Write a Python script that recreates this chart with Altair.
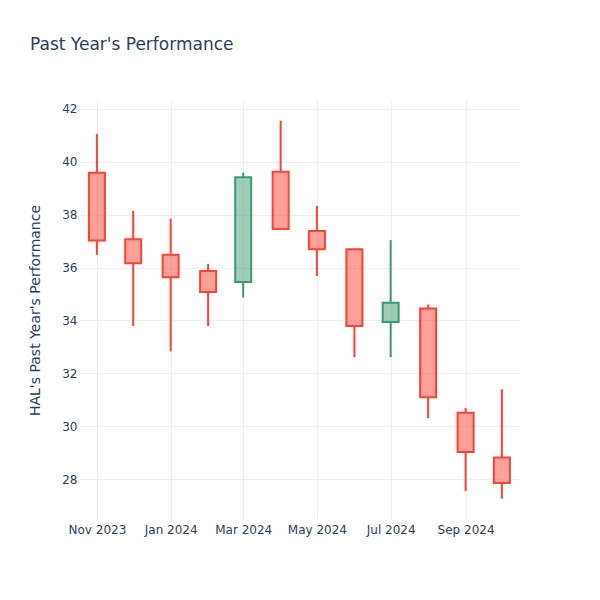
import altair as alt
import pandas as pd

dates = ["2023-11-01", "2023-12-01", "2024-01-01", "2024-02-01", "2024-03-01", "2024-04-01",
         "2024-05-01", "2024-06-01", "2024-07-01", "2024-08-01", "2024-09-01", "2024-10-01"]
opens = [39.59, 37.07, 36.49, 35.87, 35.45, 39.63, 37.38, 36.69, 33.94, 34.45, 30.51, 28.81]
highs = [41.05, 38.14, 37.85, 36.14, 39.59, 41.56, 38.33, 36.72, 37.04, 34.60, 30.69, 31.39]
lows = [36.48, 33.79, 32.83, 33.79, 34.87, 37.42, 35.68, 32.61, 32.61, 30.31, 27.54, 27.26]
closes = [37.02, 36.16, 35.63, 35.08, 39.42, 37.46, 36.69, 33.79, 34.67, 31.09, 29.02, 27.85]

y_ticks = [28, 30, 32, 34, 36, 38, 40, 42]
x_ticks = [(2023, 11), (2024, 1), (2024, 3), (2024, 5), (2024, 7), (2024, 9)]

df = pd.DataFrame({"date": dates, "open": opens, "high": highs, "low": lows, "close": closes})
df["top"] = df[["open", "close"]].max(axis=1)
df["bottom"] = df[["open", "close"]].min(axis=1)
df["dir"] = ["up" if c >= o else "down" for o, c in zip(opens, closes)]

FONT = "DejaVu Sans"
TXT = "#2a3f5f"
GRID = "#EBF0F8"

x = alt.X(
    "date:T",
    title=None,
    scale=alt.Scale(
        type="utc", padding=0,
        domain=[alt.DateTime(year=2023, month=10, date=18, utc=True),
                alt.DateTime(year=2024, month=10, date=16, utc=True)],
    ),
    axis=alt.Axis(
        values=[alt.DateTime(year=yy, month=mm, date=1, utc=True) for yy, mm in x_ticks],
        labelExpr="utcFormat(datum.value, '%b %Y')",
        ticks=False, domain=False, gridColor=GRID, gridWidth=1,
        labelFont=FONT, labelFontSize=12, labelColor=TXT, labelPadding=4,
    ),
)
yscale = alt.Scale(domain=[26.45, 42.34], nice=False, zero=False)
yaxis = alt.Axis(
    values=y_ticks, ticks=False, domain=False, gridColor=GRID, gridWidth=1,
    labelFont=FONT, labelFontSize=12, labelColor=TXT, labelPadding=3,
    title="HAL's Past Year's Performance", titleFont=FONT, titleFontSize=14,
    titleFontWeight="normal", titleColor=TXT, titleX=-45, titleBaseline="middle",
)
color = alt.Color("dir:N", scale=alt.Scale(domain=["up", "down"], range=["#3D9970", "#FF4136"]), legend=None)

base = alt.Chart(df)
wick_hi = base.mark_rule(strokeWidth=2).encode(
    x=x, y=alt.Y("top:Q", scale=yscale, axis=yaxis), y2="high:Q", color=color)
wick_lo = base.mark_rule(strokeWidth=2).encode(
    x=x, y=alt.Y("low:Q", scale=yscale, axis=yaxis), y2="bottom:Q", color=color)
body = base.mark_bar(size=16, strokeWidth=2, fillOpacity=0.5).encode(
    x=x, y=alt.Y("open:Q", scale=yscale, axis=yaxis), y2="close:Q",
    color=color, stroke=color)

chart = alt.layer(wick_hi, wick_lo, body).properties(
    width=440, height=420,
    background="white",
    title=alt.Title("Past Year's Performance", anchor="start", frame="group", font=FONT,
                    fontSize=17, fontWeight="normal", color=TXT, dx=-50, offset=46),
    autosize=alt.AutoSizeParams(type="none"),
    padding={"left": 72, "top": 92, "right": 40, "bottom": 50},
).configure_view(stroke=None, strokeWidth=0)

chart.save("out.html", embed_options={"renderer": "svg", "actions": False})
